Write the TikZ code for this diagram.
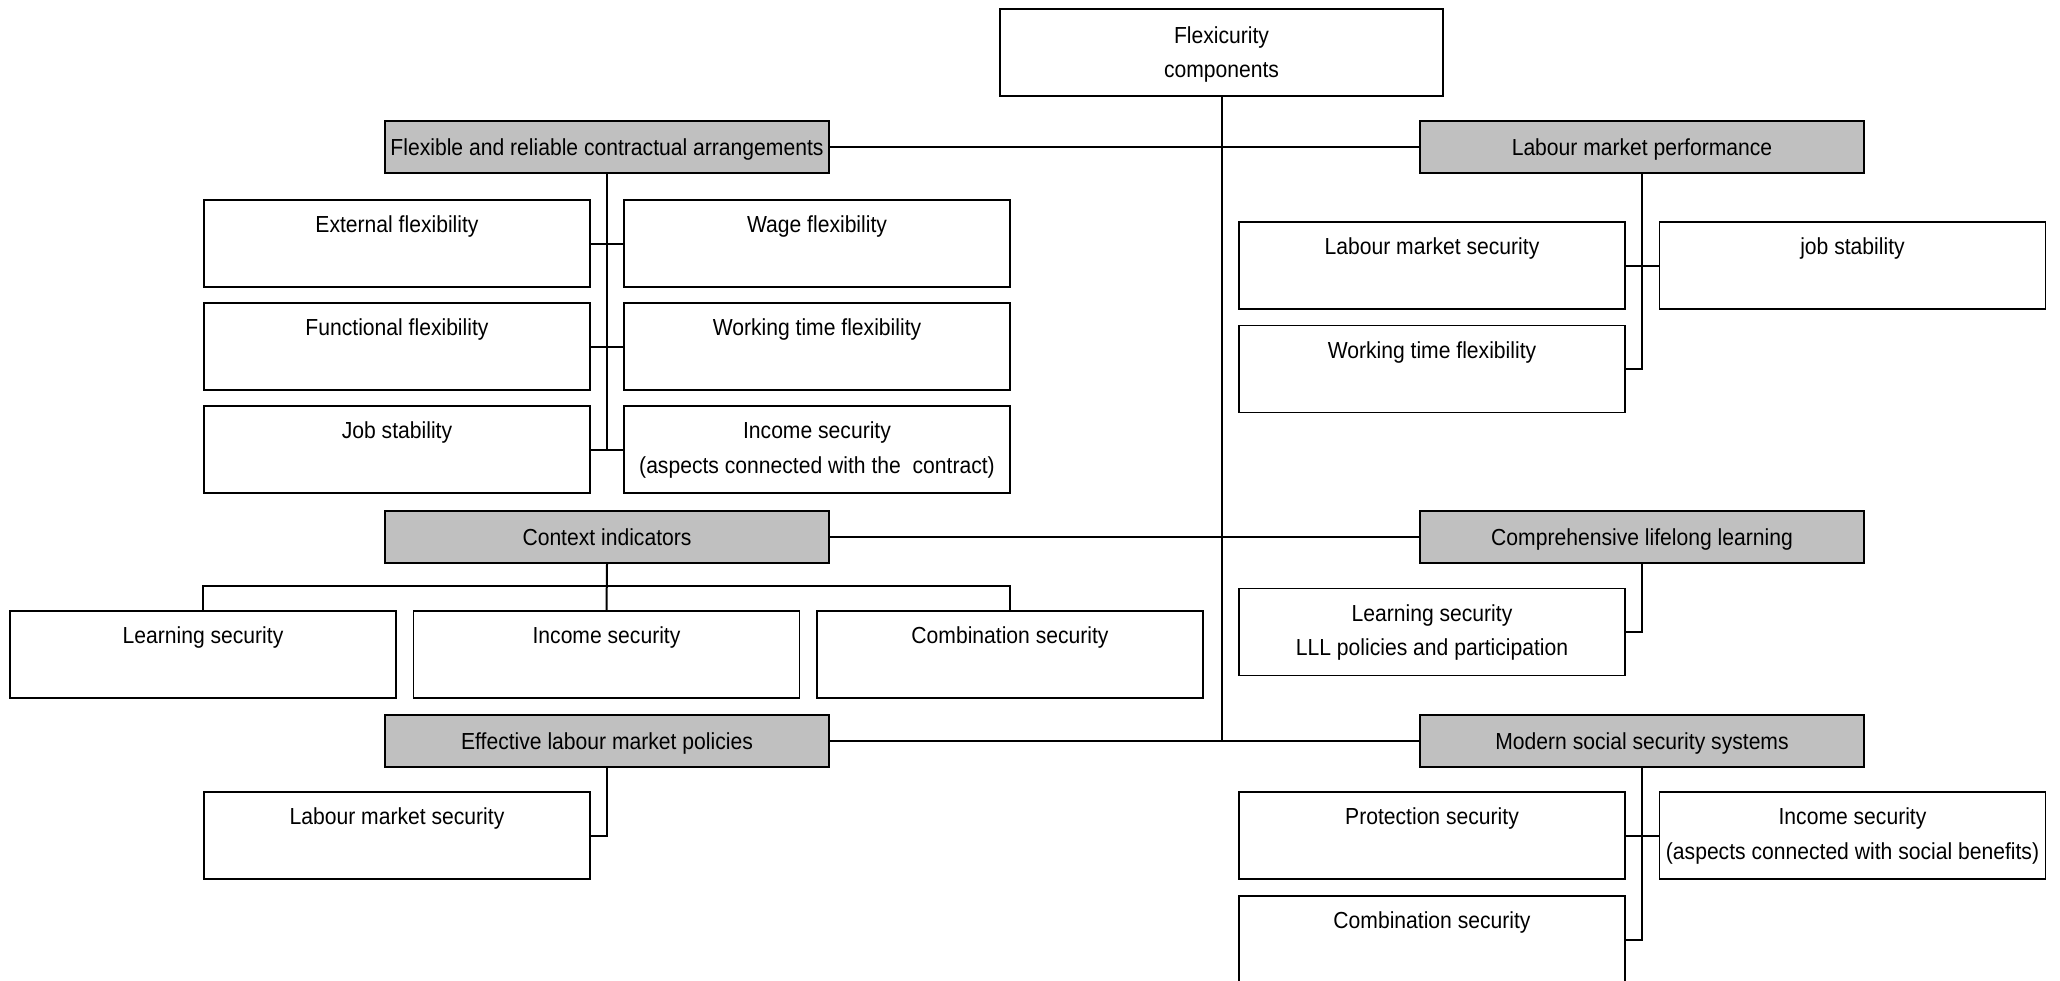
\documentclass[tikz,border=0pt]{standalone}
\usepackage{fontspec}
\setmainfont{Liberation Sans}[FakeStretch=0.91]
\definecolor{boxgray}{RGB}{192,192,192}
\begin{document}
\begin{tikzpicture}[x=0.5pt,y=-0.5pt,
  every node/.style={font=\fontsize{11.6pt}{17.2pt}\selectfont},
  wbox/.style={draw=black, line width=0.95pt, fill=white, inner sep=0pt,
    minimum width=193pt, minimum height=43.5pt},
  gbox/.style={draw=black, line width=0.95pt, fill=boxgray, inner sep=0pt,
    minimum width=222pt, minimum height=26pt, text height=10pt, text depth=1.5pt},
  topbox/.style={draw=black, line width=0.95pt, fill=white, inner sep=0pt,
    minimum width=221.5pt, minimum height=43.5pt},
  lab/.style={anchor=north, yshift=-8.2pt, inner sep=0pt, align=center},
  toplab/.style={lab, yshift=-0.8pt},
  conn/.style={line width=1pt}]
\useasboundingbox (0,0) rectangle (2060,980);

% main boxes
\node[topbox, label={[toplab]north:Flexicurity\\components}] (top) at (1221.5,52.5) {};
\node[gbox] (frca) at (607,147) {Flexible and reliable contractual arrangements};
\node[gbox] (lmp) at (1642,147) {Labour market performance};
\node[gbox] (ci) at (607,537) {Context indicators};
\node[gbox] (cll) at (1642,537) {Comprehensive lifelong learning};
\node[gbox] (elmp) at (607,741) {Effective labour market policies};
\node[gbox] (msss) at (1642,741) {Modern social security systems};

% trunk and branches
\draw[conn] (top.south) -- (top.south |- msss.west);
\draw[conn] (frca.east) -- (lmp.west);
\draw[conn] (ci.east) -- (cll.west);
\draw[conn] (elmp.east) -- (msss.west);

% FRCA children
\node[wbox, label={[lab]north:External flexibility}] (ef) at (397,243.5) {};
\node[wbox, label={[lab]north:Wage flexibility}] (wf) at (817,243.5) {};
\node[wbox, label={[lab]north:Functional flexibility}] (ff) at (397,346.5) {};
\node[wbox, label={[lab]north:Working time flexibility}] (wtf) at (817,346.5) {};
\node[wbox, label={[lab]north:Job stability}] (js) at (397,449.5) {};
\node[wbox, label={[lab]north:Income security\\(aspects connected with the\ \ contract)}] (isc) at (817,449.5) {};
\draw[conn] (frca.south) -- (frca.south |- js.east);
\draw[conn] (ef.east) -- (wf.west);
\draw[conn] (ff.east) -- (wtf.west);
\draw[conn] (js.east) -- (isc.west);

% CI children
\node[wbox, label={[lab]north:Learning security}] (lsc) at (203,654.5) {};
\node[wbox, label={[lab]north:Income security}] (isci) at (606.5,654.5) {};
\node[wbox, label={[lab]north:Combination security}] (csc) at (1010,654.5) {};
\draw[conn] (ci.south) -- (isci.north);
\draw[conn] (lsc.north) -- ++(0,-24) -| (csc.north);

% ELMP child
\node[wbox, label={[lab]north:Labour market security}] (lmse) at (397,835.5) {};
\draw[conn] (elmp.south) |- (lmse.east);

% LMP children
\node[wbox, label={[lab]north:Labour market security}] (lmsp) at (1432,265.5) {};
\node[wbox, label={[lab]north:job stability}] (jsp) at (1852.5,265.5) {};
\node[wbox, label={[lab]north:Working time flexibility}] (wtfp) at (1432,369) {};
\draw[conn] (lmp.south) |- (wtfp.east);
\draw[conn] (lmsp.east) -- (jsp.west);

% CLL child
\node[wbox, label={[lab]north:Learning security\\LLL policies and participation}] (lsl) at (1432,632) {};
\draw[conn] (cll.south) |- (lsl.east);

% MSSS children
\node[wbox, label={[lab]north:Protection security}] (ps) at (1432,835.5) {};
\node[wbox, label={[lab]north:Income security\\(aspects connected with social benefits)}] (iss) at (1852.5,835.5) {};
\node[wbox, label={[lab]north:Combination security}] (css) at (1432,939.5) {};
\draw[conn] (msss.south) |- (css.east);
\draw[conn] (ps.east) -- (iss.west);
\end{tikzpicture}
\end{document}
